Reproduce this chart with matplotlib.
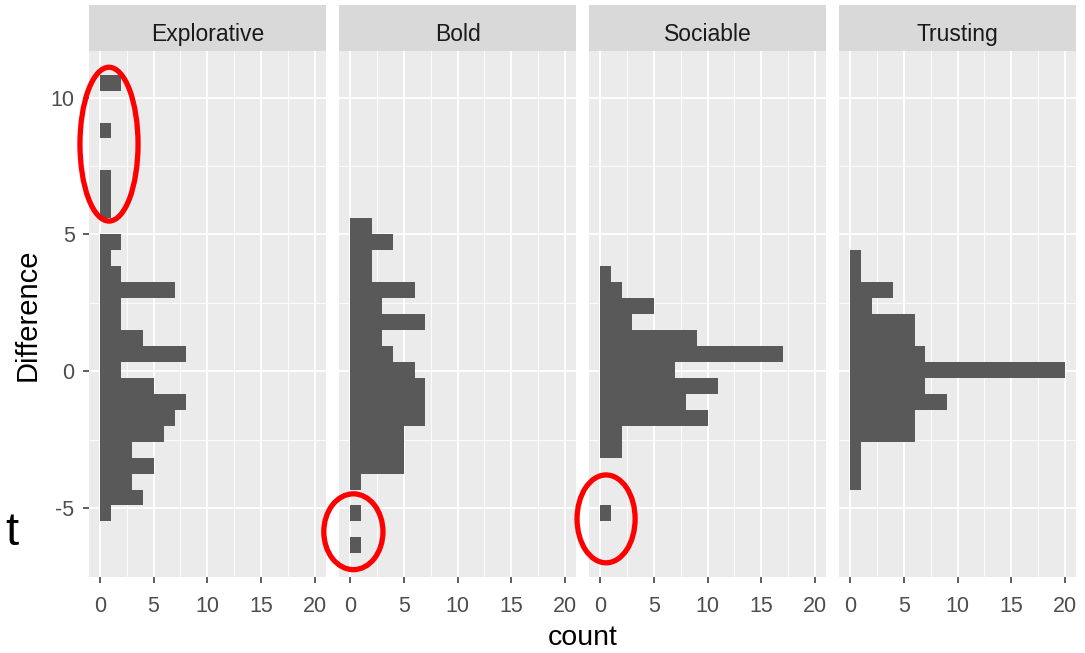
import numpy as np
import matplotlib
matplotlib.use("Agg")
import matplotlib.pyplot as plt
from matplotlib.patches import Rectangle, Ellipse
from matplotlib.ticker import MultipleLocator, FixedLocator

plt.rcParams['font.family'] = ['Liberation Sans', 'DejaVu Sans']
plt.rcParams['axes.unicode_minus'] = False

# ---- data ----
facets = ["Explorative", "Bold", "Sociable", "Trusting"]
# histogram bins on "Difference" (30 shared bins, bottom to top)
bin_low, bin_high, n_bins = -6.65, 10.84, 30
counts_explorative = [0, 0, 1, 4, 3, 5, 3, 6, 7, 8, 5, 2, 8, 4, 2, 2, 7, 2, 1, 2,
                      0, 1, 1, 1, 0, 0, 1, 0, 0, 2]
counts_bold = [1, 0, 1, 0, 1, 5, 5, 5, 7, 7, 7, 6, 4, 3, 7, 3, 6, 2, 2, 4,
               2, 0, 0, 0, 0, 0, 0, 0, 0, 0]
counts_sociable = [0, 0, 1, 0, 0, 0, 2, 2, 10, 8, 11, 7, 17, 9, 3, 5, 2, 1, 0, 0,
                   0, 0, 0, 0, 0, 0, 0, 0, 0, 0]
counts_trusting = [0, 0, 0, 0, 1, 1, 1, 6, 6, 9, 7, 20, 7, 6, 6, 2, 4, 1, 1, 0,
                   0, 0, 0, 0, 0, 0, 0, 0, 0, 0]
all_counts = [counts_explorative, counts_bold, counts_sociable, counts_trusting]

x_ticks = [0, 5, 10, 15, 20]
x_ticklabels = ["0", "5", "10", "15", "20"]
y_ticks = [-5, 0, 5, 10]
y_ticklabels = ["-5", "0", "5", "10"]

# highlighted outlier regions (facet index, center count, center diff, width, height)
highlights = [(0, 0.86, 8.30, 5.4, 5.62),
              (1, 0.31, -5.86, 5.5, 2.77),
              (2, 0.56, -5.39, 5.4, 3.21)]

# ---- layout ----
W, H = 1085, 653
fig = plt.figure(figsize=(W / 100, H / 100), dpi=100)
fig.patch.set_facecolor("white")

panel_lefts = [89, 339.3, 589.3, 839.3]
panel_w = 236.6
panel_top, panel_bottom = 50.7, 577.3
panel_h = panel_bottom - panel_top
strip_h = 45.7

edges = np.linspace(bin_low, bin_high, n_bins + 1)
bw = edges[1] - edges[0]
ylim = (bin_low - 1.5 * bw, bin_high + 1.5 * bw)

axes = []
for i, (name, cnts) in enumerate(zip(facets, all_counts)):
    ax = fig.add_axes([panel_lefts[i] / W, 1 - panel_bottom / H, panel_w / W, panel_h / H])
    axes.append(ax)
    ax.set_facecolor("#EBEBEB")
    for s in ax.spines.values():
        s.set_visible(False)
    ax.set_xlim(-1, 21)
    ax.set_ylim(*ylim)
    ax.xaxis.set_major_locator(FixedLocator(x_ticks))
    ax.set_xticklabels(x_ticklabels)
    ax.xaxis.set_minor_locator(MultipleLocator(2.5))
    ax.yaxis.set_major_locator(FixedLocator(y_ticks))
    ax.yaxis.set_minor_locator(MultipleLocator(2.5))
    ax.grid(which="minor", color="white", lw=0.6, zorder=0)
    ax.grid(which="major", color="white", lw=1.3, zorder=0)
    ax.set_axisbelow(True)
    ax.tick_params(which="minor", length=0)
    ax.tick_params(axis="x", which="major", length=4.5, width=1.1, color="#333333",
                   labelsize=15.5, labelcolor="#4D4D4D", pad=9)
    if i == 0:
        ax.set_yticklabels(y_ticklabels)
        ax.tick_params(axis="y", which="major", length=4.5, width=1.1, color="#333333",
                       labelsize=15.5, labelcolor="#4D4D4D", pad=5.9)
    else:
        ax.tick_params(axis="y", which="both", left=False, labelleft=False)

    ax.stairs(cnts, edges, orientation="horizontal", fill=True,
              color="#595959", baseline=0, zorder=2)

    # facet strip
    sh = strip_h / panel_h
    ax.add_patch(Rectangle((0, 1), 1, sh, transform=ax.transAxes, clip_on=False,
                           facecolor="#D9D9D9", edgecolor="none", zorder=3))
    ax.text(0.5, 1 + 10 / panel_h, name, transform=ax.transAxes, ha="center",
            va="baseline", fontsize=16.5, color="#1A1A1A", zorder=4)

for (fi, cx, cy, w, h) in highlights:
    e = Ellipse((cx, cy), w, h, fill=False, edgecolor="#FF0000", lw=3.8,
                clip_on=False, zorder=5)
    axes[fi].add_patch(e)

fig.text(582.5 / W, 1 - 645 / H, "count", ha="center", va="baseline",
         fontsize=20.5, color="black")
fig.text(28 / W, 1 - 315 / H, "Difference", ha="center", va="center",
         rotation=90, fontsize=21, color="black")
fig.text(18 / W, 1 - 545 / H, "t", ha="right", va="baseline", fontsize=34,
         color="black")

fig.savefig("out.png", dpi=100)
